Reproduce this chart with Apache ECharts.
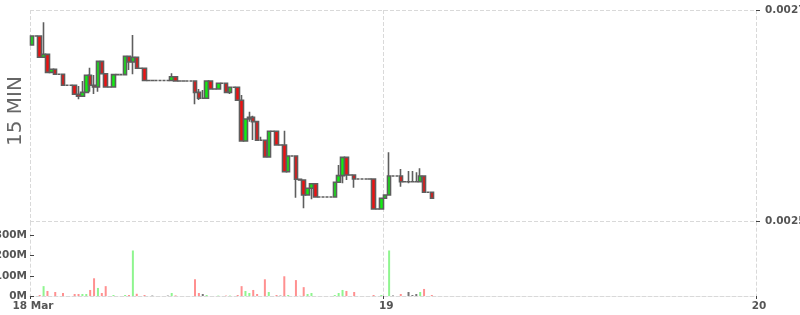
<!DOCTYPE html>
<html>
<head>
<meta charset="utf-8">
<script src="https://cdn.jsdelivr.net/npm/echarts@6/dist/echarts.min.js"></script>
<style>html,body{margin:0;padding:0;background:#fff}#c{width:800px;height:315px}</style>
</head>
<body>
<div id="c"></div>
<script>
// Axis range in hours since 18 Mar 00:00
const axisStartHour = 1.25;
const axisEndHour = 48;
const candleStepHour = 0.25;           // 15 minute candles
const tickHours = [1.25, 24, 48];
const tickLabels = ['18 Mar', '19', '20'];
const priceTicks = [0.0025, 0.0027];
const volumeTicks = [0, 100, 200, 300]; // millions
const timeframeLabel = '15 MIN';

// OHLC: [open, close, low, high]
const candles = [
  [0.0026669,0.0026754,0.0026669,0.0026754],
  [0.0026754,0.0026754,0.0026754,0.0026754],
  [0.0026754,0.0026553,0.0026553,0.0026754],
  [0.0026553,0.0026581,0.0026553,0.0026884],
  [0.0026581,0.0026411,0.0026411,0.0026581],
  [0.0026411,0.0026440,0.0026411,0.0026440],
  [0.0026440,0.0026393,0.0026393,0.0026440],
  [0.0026393,0.0026393,0.0026393,0.0026393],
  [0.0026393,0.0026289,0.0026289,0.0026393],
  [0.0026289,0.0026289,0.0026289,0.0026289],
  [0.0026289,0.0026289,0.0026289,0.0026289],
  [0.0026289,0.0026204,0.0026204,0.0026289],
  [0.0026204,0.0026185,0.0026156,0.0026282],
  [0.0026185,0.0026222,0.0026185,0.0026329],
  [0.0026222,0.0026383,0.0026222,0.0026383],
  [0.0026383,0.0026289,0.0026228,0.0026455],
  [0.0026289,0.0026273,0.0026206,0.0026386],
  [0.0026273,0.0026515,0.0026228,0.0026515],
  [0.0026515,0.0026398,0.0026398,0.0026515],
  [0.0026398,0.0026273,0.0026273,0.0026398],
  [0.0026273,0.0026273,0.0026273,0.0026273],
  [0.0026273,0.0026389,0.0026273,0.0026389],
  [0.0026389,0.0026389,0.0026389,0.0026389],
  [0.0026389,0.0026389,0.0026389,0.0026389],
  [0.0026389,0.0026563,0.0026389,0.0026563],
  [0.0026563,0.0026509,0.0026433,0.0026563],
  [0.0026509,0.0026553,0.0026393,0.0026764],
  [0.0026553,0.0026449,0.0026449,0.0026553],
  [0.0026449,0.0026449,0.0026449,0.0026449],
  [0.0026449,0.0026334,0.0026334,0.0026449],
  [0.0026334,0.0026334,0.0026334,0.0026334],
  [0.0026334,0.0026334,0.0026334,0.0026334],
  [0.0026334,0.0026334,0.0026334,0.0026334],
  [0.0026334,0.0026334,0.0026334,0.0026334],
  [0.0026334,0.0026334,0.0026334,0.0026334],
  [0.0026334,0.0026334,0.0026334,0.0026334],
  [0.0026334,0.0026370,0.0026334,0.0026402],
  [0.0026370,0.0026329,0.0026329,0.0026370],
  [0.0026329,0.0026329,0.0026329,0.0026329],
  [0.0026329,0.0026329,0.0026329,0.0026329],
  [0.0026329,0.0026329,0.0026329,0.0026329],
  [0.0026329,0.0026329,0.0026329,0.0026329],
  [0.0026329,0.0026222,0.0026109,0.0026329],
  [0.0026222,0.0026166,0.0026150,0.0026254],
  [0.0026166,0.0026166,0.0026166,0.0026244],
  [0.0026166,0.0026329,0.0026166,0.0026329],
  [0.0026329,0.0026254,0.0026254,0.0026329],
  [0.0026254,0.0026254,0.0026254,0.0026254],
  [0.0026254,0.0026308,0.0026254,0.0026308],
  [0.0026308,0.0026308,0.0026308,0.0026308],
  [0.0026308,0.0026222,0.0026222,0.0026308],
  [0.0026222,0.0026270,0.0026206,0.0026270],
  [0.0026270,0.0026270,0.0026270,0.0026270],
  [0.0026270,0.0026147,0.0026147,0.0026270],
  [0.0026147,0.0025762,0.0025762,0.0026197],
  [0.0025762,0.0025970,0.0025762,0.0025970],
  [0.0025970,0.0025986,0.0025945,0.0026039],
  [0.0025986,0.0025945,0.0025772,0.0026001],
  [0.0025945,0.0025769,0.0025769,0.0025945],
  [0.0025769,0.0025769,0.0025769,0.0025803],
  [0.0025769,0.0025611,0.0025611,0.0025769],
  [0.0025611,0.0025854,0.0025611,0.0025854],
  [0.0025854,0.0025854,0.0025854,0.0025854],
  [0.0025854,0.0025725,0.0025725,0.0025854],
  [0.0025725,0.0025725,0.0025725,0.0025725],
  [0.0025725,0.0025472,0.0025472,0.0025860],
  [0.0025472,0.0025621,0.0025472,0.0025621],
  [0.0025621,0.0025621,0.0025621,0.0025621],
  [0.0025621,0.0025401,0.0025227,0.0025621],
  [0.0025401,0.0025394,0.0025394,0.0025401],
  [0.0025394,0.0025252,0.0025127,0.0025394],
  [0.0025252,0.0025316,0.0025252,0.0025316],
  [0.0025316,0.0025359,0.0025212,0.0025359],
  [0.0025359,0.0025233,0.0025233,0.0025359],
  [0.0025233,0.0025233,0.0025233,0.0025233],
  [0.0025233,0.0025233,0.0025233,0.0025233],
  [0.0025233,0.0025233,0.0025233,0.0025233],
  [0.0025233,0.0025233,0.0025233,0.0025233],
  [0.0025233,0.0025372,0.0025233,0.0025372],
  [0.0025372,0.0025435,0.0025372,0.0025536],
  [0.0025435,0.0025608,0.0025363,0.0025608],
  [0.0025608,0.0025441,0.0025394,0.0025608],
  [0.0025441,0.0025441,0.0025441,0.0025441],
  [0.0025441,0.0025403,0.0025321,0.0025441],
  [0.0025403,0.0025403,0.0025403,0.0025403],
  [0.0025403,0.0025403,0.0025403,0.0025403],
  [0.0025403,0.0025403,0.0025403,0.0025403],
  [0.0025403,0.0025403,0.0025403,0.0025403],
  [0.0025403,0.0025120,0.0025120,0.0025403],
  [0.0025120,0.0025120,0.0025120,0.0025120],
  [0.0025120,0.0025221,0.0025120,0.0025221],
  [0.0025221,0.0025252,0.0025221,0.0025252],
  [0.0025252,0.0025432,0.0025252,0.0025656],
  [0.0025432,0.0025432,0.0025432,0.0025432],
  [0.0025432,0.0025432,0.0025432,0.0025432],
  [0.0025432,0.0025378,0.0025331,0.0025498],
  [0.0025378,0.0025378,0.0025378,0.0025378],
  [0.0025378,0.0025378,0.0025363,0.0025479],
  [0.0025378,0.0025378,0.0025378,0.0025479],
  [0.0025378,0.0025378,0.0025378,0.0025467],
  [0.0025378,0.0025432,0.0025378,0.0025504],
  [0.0025432,0.0025278,0.0025278,0.0025432],
  [0.0025278,0.0025278,0.0025278,0.0025278],
  [0.0025278,0.0025221,0.0025221,0.0025278]
];

// Volume per candle, millions
const volumes = [
  0,0,5,49,25,0,20,0,15,0,
  0,10,10,10,10,30,88,40,15,49,
  0,5,0,0,5,5,226,11,0,5,
  0,2,0,0,0,2,15,3,0,0,
  0,0,83,15,10,5,0,0,2,0,
  2,2,0,5,49,25,15,30,10,0,
  83,20,0,5,2,98,5,0,79,1,
  44,10,15,0,0,0,0,0,5,15,
  30,25,0,20,0,0,0,0,5,0,
  5,0,226,2,0,10,0,20,5,10,
  20,35,0,5
];

const UP = '#11ee11', DOWN = '#ee1111', EDGE = '#5e5e5e';
const VOL_UP = '#8ff58f', VOL_DOWN = '#ff9090', VOL_FLAT = '#777777';
const GRIDLINE = { type: 'dashed', color: '#d9d9d9', width: 1 };
const LABEL = { color: '#555', fontWeight: 'bold', fontSize: 10.5, fontFamily: 'DejaVu Sans' };

const candleX = i => axisStartHour + candleStepHour * i + candleStepHour / 2;
const candleData = candles.map((c, i) => [candleX(i), c[0], c[1], c[2], c[3]]);
const volumeData = volumes.map((v, i) => {
  const c = candles[i];
  const col = c[1] > c[0] ? VOL_UP : (c[1] < c[0] ? VOL_DOWN : VOL_FLAT);
  return { value: [candleX(i), v], itemStyle: { color: col } };
});

const chart = echarts.init(document.getElementById('c'), null, { renderer: 'canvas' });
chart.setOption({
  animation: false,
  backgroundColor: '#fff',
  grid: [
    { left: 30, right: 44, top: 10, height: 211.7, outerBoundsMode: 'none', containLabel: false },
    { left: 30, right: 44, top: 221.7, height: 74.3, outerBoundsMode: 'none', containLabel: false }
  ],
  xAxis: [
    {
      type: 'value', gridIndex: 0, min: axisStartHour, max: axisEndHour,
      axisLine: { show: false },
      axisTick: { show: false, customValues: tickHours },
      axisLabel: { show: false, customValues: tickHours },
      splitLine: { show: true, lineStyle: GRIDLINE }
    },
    {
      type: 'value', gridIndex: 1, min: axisStartHour, max: axisEndHour,
      axisLine: { show: true, lineStyle: GRIDLINE },
      axisTick: { show: true, customValues: tickHours, length: 3, lineStyle: { color: '#444' } },
      axisLabel: Object.assign({
        customValues: tickHours, margin: 5, padding: [0, 0, 0, 6],
        formatter: v => { const k = tickHours.indexOf(v); return k >= 0 ? tickLabels[k] : ''; }
      }, LABEL),
      splitLine: { show: true, lineStyle: GRIDLINE }
    }
  ],
  yAxis: [
    {
      type: 'value', gridIndex: 0, position: 'right',
      min: priceTicks[0], max: priceTicks[1],
      axisLine: { show: false },
      axisTick: { show: true, customValues: priceTicks, length: 4, lineStyle: { color: '#444' } },
      axisLabel: Object.assign({ customValues: priceTicks, margin: 9, padding: [5, 0, 0, 0], formatter: v => v.toFixed(4) }, LABEL),
      splitLine: { show: true, lineStyle: GRIDLINE }
    },
    {
      type: 'value', gridIndex: 1, position: 'left', min: 0, max: 369,
      axisLine: { show: false },
      axisTick: { show: true, inside: true, length: 4, customValues: volumeTicks, lineStyle: { color: '#444' } },
      axisLabel: Object.assign({ customValues: volumeTicks, margin: 3, formatter: v => v + 'M' }, LABEL),
      splitLine: { show: false }
    }
  ],
  graphic: [{
    type: 'text', x: 16, y: 111, rotation: Math.PI / 2,
    style: { text: timeframeLabel, fill: '#666', font: '20px "DejaVu Sans"', align: 'center', verticalAlign: 'middle' }
  }],
  series: [
    {
      type: 'candlestick', xAxisIndex: 0, yAxisIndex: 0,
      data: candleData, encode: { x: 0, y: [1, 2, 3, 4] },
      barWidth: 4,
      itemStyle: { color: UP, color0: DOWN, borderColor: EDGE, borderColor0: EDGE, borderColorDoji: EDGE, borderWidth: 1.6 }
    },
    {
      type: 'bar', xAxisIndex: 1, yAxisIndex: 1,
      data: volumeData, barWidth: 2
    }
  ]
});
</script>
</body>
</html>
